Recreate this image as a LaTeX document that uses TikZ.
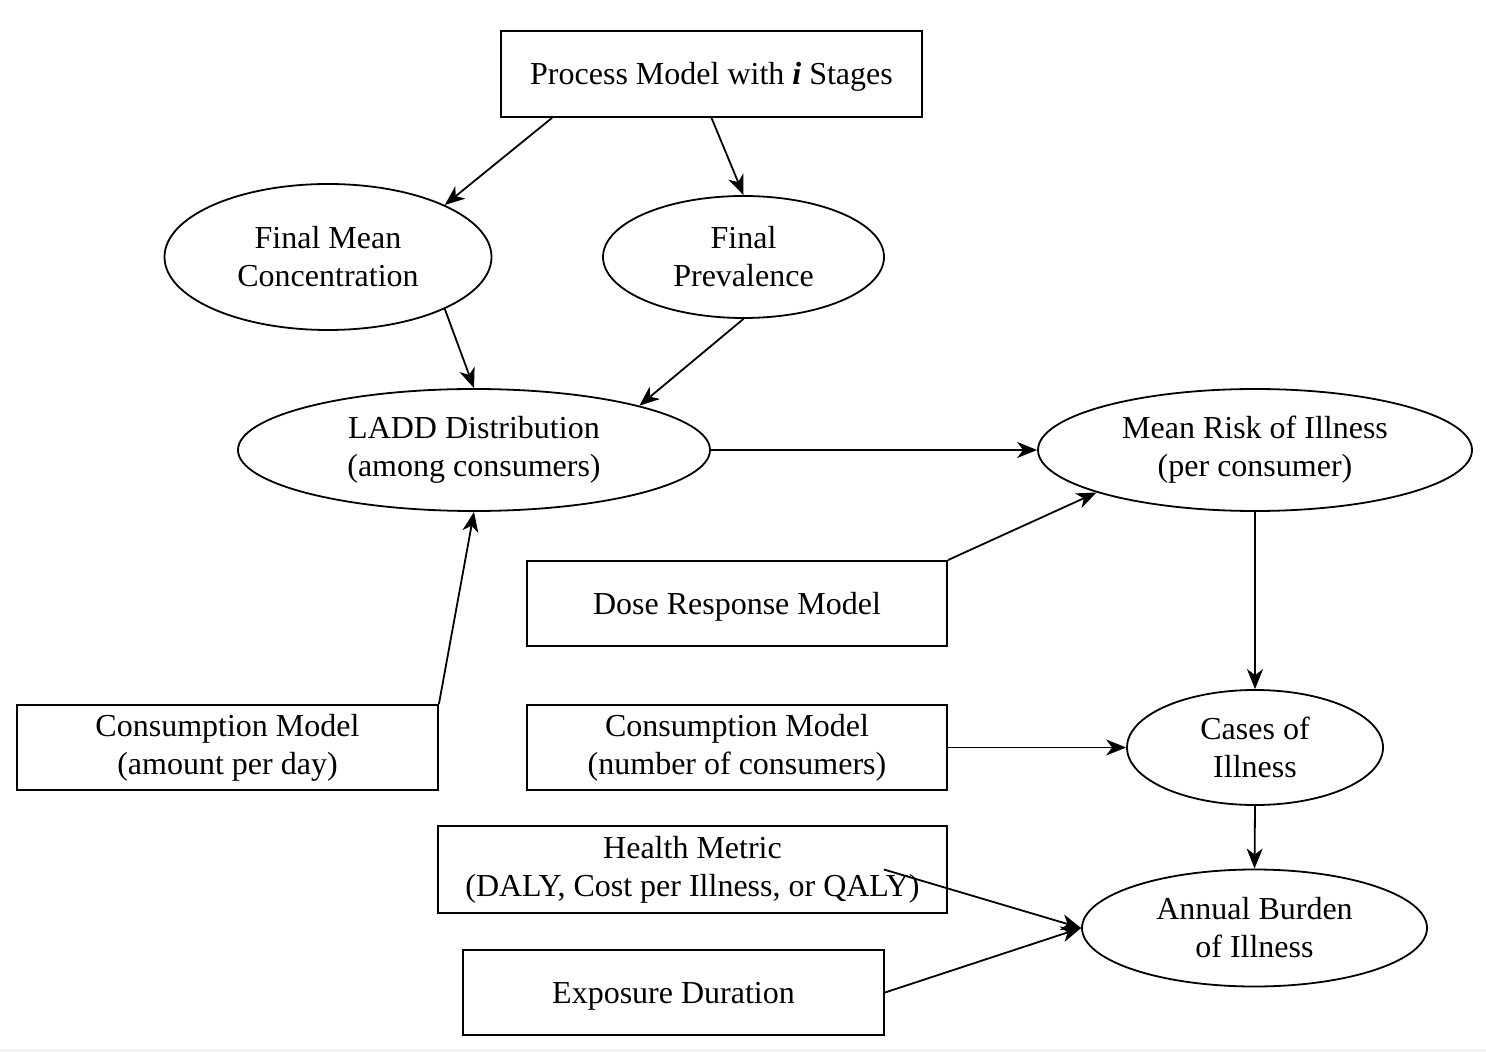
\documentclass[tikz,border=0pt]{standalone}
\usepackage{fontspec}
\setmainfont{Liberation Serif}
\usetikzlibrary{shapes.geometric,arrows.meta}

\tikzset{
  every node/.style={inner sep=0pt, align=center, font=\fontsize{16}{19}\selectfont,
    execute at begin node={\rule{0pt}{14.2pt}}},
  modelbox/.style={draw, line width=0.9pt, rectangle},
  quantity/.style={draw, line width=0.9pt, ellipse},
  flow/.style={draw, line width=0.9pt, -{Stealth[length=10pt,width=8pt,inset=3pt]}}
}

\begin{document}
\begin{tikzpicture}[x=0.5pt,y=-0.5pt]
\useasboundingbox (0,0) rectangle (1486,1052);
\fill[gray!10] (0,1049) rectangle (1486,1052);

% process chain at the top
\node[modelbox, minimum width=210.5pt, minimum height=43pt] (pm) at (711.5,74)
  {Process Model with \textbf{\textit{i}} Stages};
\node[quantity, minimum width=163.5pt, minimum height=73pt] (fmc) at (328,257)
  {Final Mean\\Concentration};
\node[quantity, minimum width=140.5pt, minimum height=61pt] (fp) at (743.5,257)
  {Final\\Prevalence};

% exposure and risk
\node[quantity, minimum width=236pt, minimum height=61pt] (ladd) at (474,450)
  {LADD Distribution\\(among consumers)};
\node[quantity, minimum width=217pt, minimum height=61pt] (mr) at (1255,450)
  {Mean Risk of Illness\\(per consumer)};
\node[modelbox, minimum width=210pt, minimum height=42.5pt] (drm) at (737,603.5)
  {Dose Response Model};
\node[modelbox, minimum width=210.5pt, minimum height=42.5pt] (cml) at (227.5,747.5)
  {Consumption Model\\(amount per day)};
\node[modelbox, minimum width=210pt, minimum height=42.5pt] (cmn) at (737,747.5)
  {Consumption Model\\(number of consumers)};
\node[quantity, minimum width=128pt, minimum height=57.5pt] (cases) at (1255,747.5)
  {Cases of\\Illness};

% burden
\node[modelbox, minimum width=254.5pt, minimum height=43.5pt] (hm) at (692.5,869.5)
  {Health Metric\\(DALY, Cost per Illness, or QALY)};
\node[modelbox, minimum width=210.5pt, minimum height=42.5pt] (ed) at (673.5,992.5)
  {Exposure Duration};
\node[quantity, minimum width=172.5pt, minimum height=58.5pt] (ab) at (1254.5,928)
  {Annual Burden\\of Illness};

% connectors
\draw[flow] ([xshift=-79.75pt]pm.south) -- (fmc.24);
\draw[flow] (pm.south) -- (fp.north);
\draw[flow] (fmc.-24) -- (ladd.north);
\draw[flow] (fp.south) -- (ladd.15);
\draw[flow] (ladd.east) -- (mr.west);
\draw[flow] (drm.north east) -- (mr.195);
\draw[flow] (cml.north east) -- (ladd.south);
\draw[flow] (mr.south) -- (cases.north);
\draw[flow] (cmn.east) -- (cases.west);
\draw[flow] (cases.south) -- (ab.north);
\draw[flow] ([xshift=-32pt]hm.east) -- (ab.west);
\draw[flow] (ed.east) -- (ab.west);
\end{tikzpicture}
\end{document}
